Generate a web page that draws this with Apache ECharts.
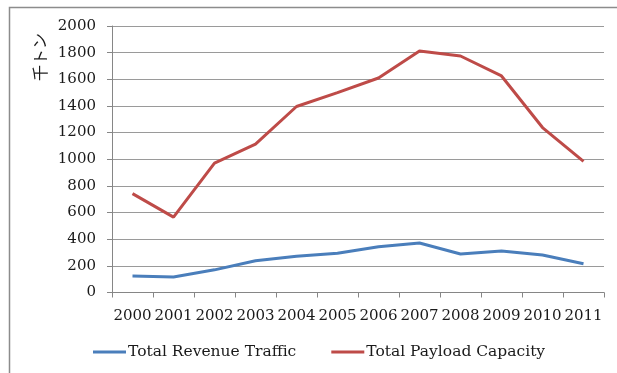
<!DOCTYPE html>
<html>
<head>
<meta charset="utf-8">
<script src="https://cdn.jsdelivr.net/npm/echarts@6/dist/echarts.min.js"></script>
<style>
  html, body { margin: 0; padding: 0; background: #fff; }
  #chart { width: 617px; height: 373px; }
</style>
</head>
<body>
<div id="chart"></div>
<script>
// Years on the category axis
const years = ['2000', '2001', '2002', '2003', '2004', '2005', '2006', '2007', '2008', '2009', '2010', '2011'];
// Thousand tonnes per year
const revenueTraffic = [124, 117, 170, 238, 272, 294, 343, 371, 289, 311, 281, 216];
const payloadCapacity = [742, 566, 971, 1114, 1396, 1500, 1610, 1812, 1775, 1625, 1238, 984];
const seriesNames = ['Total Revenue Traffic', 'Total Payload Capacity'];
const yAxisTitle = '千トン';

const serif = '"DejaVu Serif", serif';
const textColor = '#1a1a1a';
const chart = echarts.init(document.getElementById('chart'), null, { renderer: 'canvas' });

chart.setOption({
  animation: false,
  backgroundColor: '#fff',
  color: ['#4a7ebb', '#be4b48'],
  grid: { left: 112, right: 13, top: 26, bottom: 80.5, containLabel: false },
  graphic: [
    {
      type: 'rect',
      shape: { x: 9.5, y: 7.5, width: 700, height: 500 },
      style: { fill: 'none', stroke: '#8c8c8c', lineWidth: 1.5 },
      silent: true
    },
    {
      type: 'text',
      x: 40, y: 57,
      rotation: Math.PI / 2,
      style: {
        text: yAxisTitle,
        font: '16px "Noto Sans CJK JP"',
        fill: textColor,
        align: 'center',
        verticalAlign: 'middle'
      }
    }
  ],
  legend: {
    left: 88,
    top: 339,
    itemWidth: 33,
    itemHeight: 3,
    itemGap: 35,
    icon: 'rect',
    textStyle: { fontFamily: serif, fontSize: 15.5, color: textColor, padding: [0, 0, 0, -3] },
    data: seriesNames
  },
  xAxis: {
    type: 'category',
    data: years,
    boundaryGap: true,
    axisLine: { lineStyle: { color: '#868686', width: 1 } },
    axisTick: { show: true, length: 5, inside: false, alignWithLabel: false, lineStyle: { color: '#868686' } },
    axisLabel: { fontFamily: serif, fontSize: 15, color: textColor, margin: 16, interval: 0 },
    splitLine: { show: false }
  },
  yAxis: {
    type: 'value',
    min: 0,
    max: 2000,
    interval: 200,
    axisLine: { show: true, lineStyle: { color: '#868686', width: 1 } },
    axisTick: { show: true, length: 5, lineStyle: { color: '#868686' } },
    axisLabel: { fontFamily: serif, fontSize: 15, color: textColor, margin: 16, formatter: v => String(v) },
    splitLine: { show: true, lineStyle: { color: '#9a9a9a', width: 1.2 } }
  },
  series: [
    {
      name: seriesNames[0],
      type: 'line',
      data: revenueTraffic,
      showSymbol: false,
      symbol: 'none',
      lineStyle: { width: 3, color: '#4a7ebb' }
    },
    {
      name: seriesNames[1],
      type: 'line',
      data: payloadCapacity,
      showSymbol: false,
      symbol: 'none',
      lineStyle: { width: 3, color: '#be4b48' }
    }
  ]
});
</script>
</body>
</html>
